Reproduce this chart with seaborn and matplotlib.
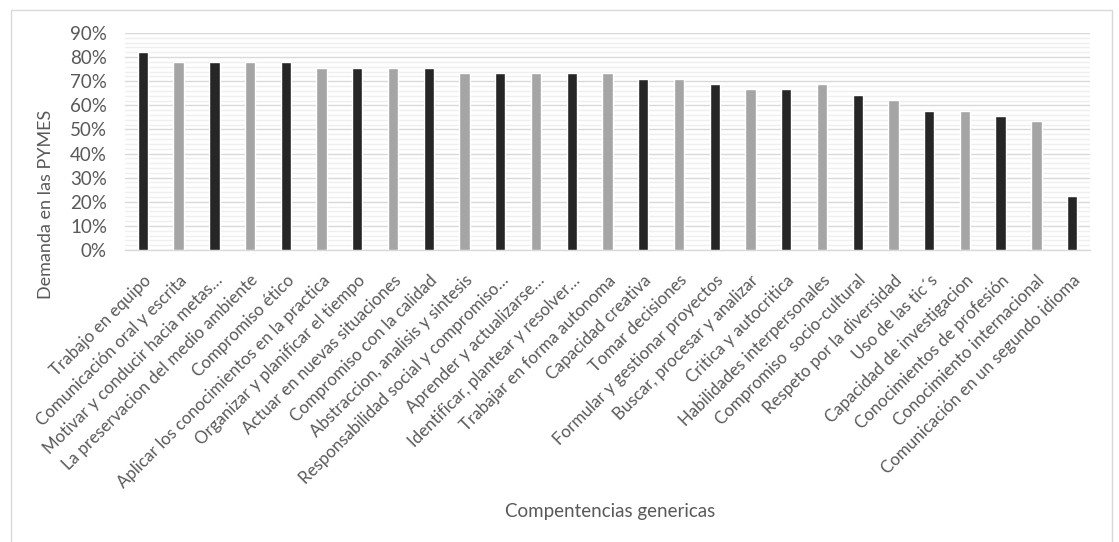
import matplotlib
matplotlib.use("Agg")
import matplotlib.pyplot as plt
from matplotlib.patches import Rectangle
from matplotlib.ticker import MultipleLocator, PercentFormatter
import seaborn as sns

competencias = [
    "Trabajo en equipo",
    "Comunicación oral y escrita",
    "Motivar y conducir hacia metas…",
    "La preservacion del medio ambiente",
    "Compromiso ético",
    "Aplicar los conocimientos en la practica",
    "Organizar y planificar el tiempo",
    "Actuar en nuevas situaciones",
    "Compromiso con la calidad",
    "Abstraccion, analisis y sintesis",
    "Responsabilidad social y compromiso…",
    "Aprender y actualizarse…",
    "Identificar, plantear y resolver…",
    "Trabajar en forma autonoma",
    "Capacidad creativa",
    "Tomar decisiones",
    "Formular y gestionar proyectos",
    "Buscar, procesar y analizar",
    "Critica y autocritica",
    "Habilidades interpersonales",
    "Compromiso  socio-cultural",
    "Respeto por la diversidad",
    "Uso de las tic´s",
    "Capacidad de investigacion",
    "Conocimientos de profesión",
    "Conocimiento internacional",
    "Comunicación en un segundo idioma",
]

demanda = [
    82.2, 77.8, 77.8, 77.8, 77.8, 75.6, 75.6, 75.6, 75.6,
    73.3, 73.3, 73.3, 73.3, 73.3, 71.1, 71.1, 68.9, 66.7,
    66.7, 68.9, 64.4, 62.2, 57.8, 57.8, 55.6, 53.3, 22.2,
]

colores = ["#262626" if i % 2 == 0 else "#A5A5A5" for i in range(len(competencias))]

sns.set_style("white")
plt.rcParams["font.family"] = ["Lato", "DejaVu Sans"]

W, H = 1119, 542
fig = plt.figure(figsize=(W / 100, H / 100), dpi=100)

# chart frame
fig.patches.append(Rectangle((11 / W, -0.01), (1112 - 11) / W, (H - 10) / H + 0.01,
                             transform=fig.transFigure, fill=False,
                             edgecolor="#D9D9D9", linewidth=1.0, zorder=0))

left, right, top, bottom = 125, 1090, 33, 250
ax = fig.add_axes([left / W, (H - bottom) / H, (right - left) / W, (bottom - top) / H])

sns.barplot(x=competencias, y=demanda, hue=competencias, palette=colores,
            legend=False, width=0.29, saturation=1, ax=ax, zorder=3)

ax.set_ylim(0, 90)
ax.set_xlim(-0.5, len(competencias) - 0.5)
ax.yaxis.set_major_locator(MultipleLocator(10))
ax.yaxis.set_minor_locator(MultipleLocator(2))
ax.yaxis.set_major_formatter(PercentFormatter(decimals=0))
ax.grid(axis="y", which="major", color="#D9D9D9", linewidth=1.0, zorder=0)
ax.grid(axis="y", which="minor", color="#EFEFEF", linewidth=1.0, zorder=0)
ax.set_axisbelow(True)

for s in ["top", "right", "left"]:
    ax.spines[s].set_visible(False)
ax.spines["bottom"].set_color("#D9D9D9")
ax.spines["bottom"].set_linewidth(1.0)

ax.tick_params(axis="both", which="both", length=0)
ax.tick_params(axis="y", labelsize=13.5, labelcolor="#595959", pad=13)
ax.tick_params(axis="x", labelsize=12.2, labelcolor="#595959", pad=16)
for lab in ax.get_xticklabels():
    lab.set_rotation(45)
    lab.set_ha("right")
    lab.set_rotation_mode("anchor")

ax.set_xlabel("Compentencias genericas", fontsize=13.5, color="#595959")
ax.set_ylabel("Demanda en las PYMES", fontsize=13, color="#595959")
ax.xaxis.set_label_coords((610 - left) / (right - left), -(512 - bottom) / (bottom - top))
ax.yaxis.set_label_coords((46 - left) / (right - left), (bottom - 204) / (bottom - top))
ax.xaxis.label.set_va("center")
ax.yaxis.label.set_va("center")

fig.savefig("out.png", dpi=100)
